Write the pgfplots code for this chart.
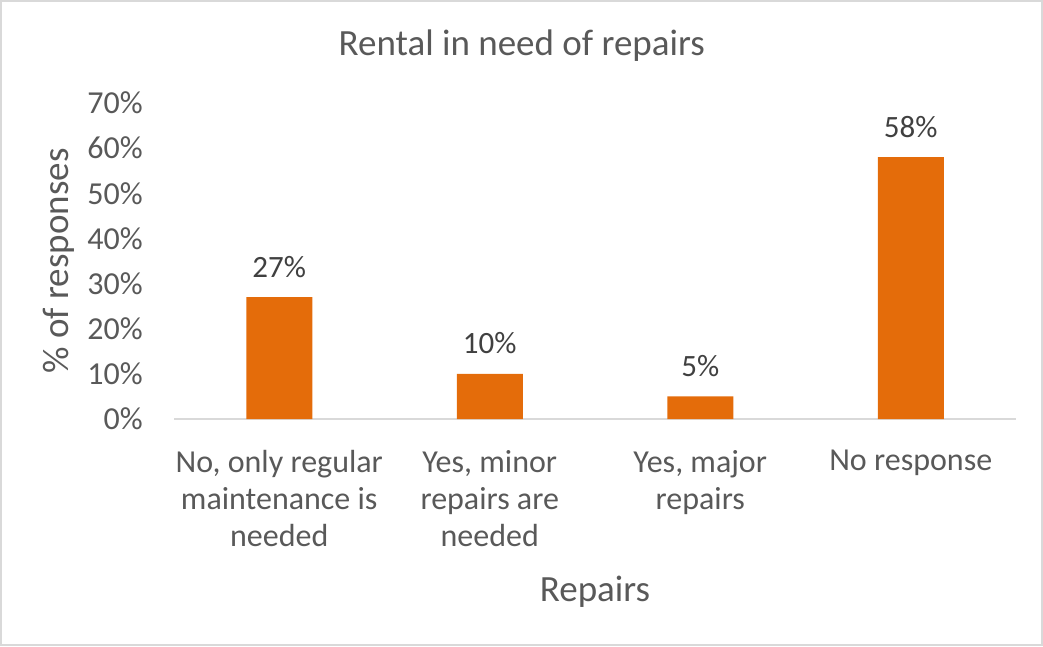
\documentclass[border=0pt]{standalone}
\usepackage{fontspec}
\setmainfont{Carlito}
\usepackage{pgfplots}
\pgfplotsset{compat=1.18}
\definecolor{barorange}{HTML}{E46C0A}
\definecolor{tickgray}{HTML}{595959}
\definecolor{labgray}{HTML}{404040}
\definecolor{linegray}{HTML}{D9D9D9}
\begin{document}
\begin{tikzpicture}[x=1pt,y=1pt]
\path[use as bounding box] (0,0) rectangle (1043,646);
\draw[linegray, line width=1.5pt] (1,1) rectangle (1042,645);
\begin{axis}[
  at={(174pt,227pt)}, anchor=south west,
  width=842pt, height=316pt, scale only axis,
  xmin=-0.5, xmax=3.5, ymin=0, ymax=70,
  axis y line*=left,
  y axis line style={draw=none},
  axis x line*=bottom,
  x axis line style={linegray, line width=1.5pt, -},
  xtick={0,1,2,3},
  xticklabels={{No, only regular\\maintenance is\\needed},{Yes, minor\\repairs are\\needed},{Yes, major\\repairs},{No response}},
  major tick length=0pt,
  xtick style={draw=none},
  xticklabel style={anchor=north, inner sep=0pt, yshift=-31pt, align=center, text=tickgray, font=\fontsize{32}{37}\selectfont},
  ytick={0,10,20,30,40,50,60,70},
  yticklabels={0\%,10\%,20\%,30\%,40\%,50\%,60\%,70\%},
  ytick style={draw=none},
  yticklabel style={anchor=east, inner sep=0pt, xshift=-31pt, text=tickgray, font=\fontsize{32}{37}\selectfont},
  xlabel={Repairs},
  xlabel style={anchor=base, at={(axis description cs:0.5,-0.579)}, text=tickgray, font=\fontsize{37}{42}\selectfont},
  ylabel={\% of responses},
  ylabel style={rotate=0, anchor=center, at={(axis description cs:-0.1366,0.5)}, text=tickgray, font=\fontsize{37}{42}\selectfont},
  title={Rental in need of repairs},
  title style={anchor=base, at={(axis description cs:0.413,1.130)}, text=tickgray, font=\fontsize{37}{42}\selectfont},
  ybar, bar width=66pt,
  nodes near coords={\pgfmathprintnumber[assume math mode=true]{\pgfplotspointmeta}\%},
  nodes near coords style={anchor=base, inner sep=0pt, yshift=20pt, text=labgray, font=\fontsize{31}{36}\selectfont},
  clip=false,
]
\addplot[fill=barorange, draw=none] coordinates {(0,27) (1,10) (2,5) (3,58)};
\end{axis}
\end{tikzpicture}
\end{document}
